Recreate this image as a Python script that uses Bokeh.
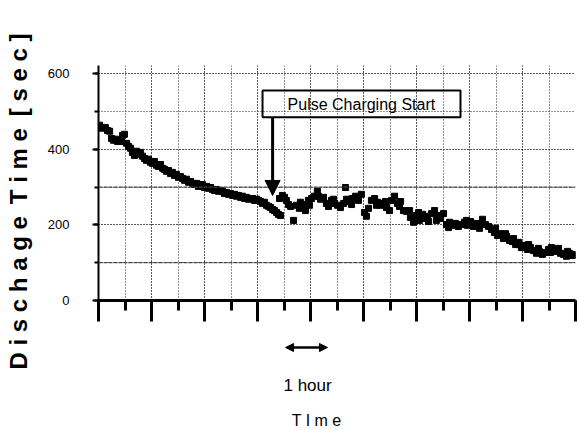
import math
from bokeh.plotting import figure
from bokeh.layouts import row, column
from bokeh.models import (Range1d, SingleIntervalTicker, Span, Arrow, NormalHead,
                          Label, ColumnDataSource)
from bokeh.core.properties import value
from bokeh.embed import file_html
from bokeh.resources import INLINE

# ---- data (x in grid units of time, y in seconds) ----
pre_x = [0.4, 1.1, 1.9, 2.6, 3.4, 4.2, 4.9, 5.7, 6.4, 7.2, 7.9, 8.7, 9.1, 9.8, 10.6, 11.3,
         12.1, 12.8, 13.6, 14.3, 15.1, 15.8, 16.6, 17.4, 18.1, 18.9, 19.6, 20.4, 21.1, 21.9,
         22.6, 23.4, 24.2, 24.9, 25.7, 26.4, 27.2, 27.9, 28.7, 29.4, 30.2, 30.9, 31.7, 32.5,
         33.2, 34.0, 34.7, 35.5, 36.2, 37.0, 37.7, 38.5, 39.2, 40.0, 40.8, 41.5, 42.3, 43.0,
         43.8, 44.5, 45.3, 46.0, 46.8, 47.5, 48.3, 49.1, 49.8, 50.6, 51.3, 52.1, 52.8, 53.6,
         54.3, 55.1, 55.8, 56.6, 57.4, 58.1, 58.9, 59.6, 60.4, 61.1, 61.9, 62.6, 63.4, 64.2,
         64.9, 65.7, 66.4, 67.2, 67.9, 68.7]
pre_y = [464, 456, 458, 458, 450, 448, 429, 424, 427, 421, 424, 421, 437, 440, 416, 408,
         403, 392, 384, 395, 387, 392, 382, 376, 371, 374, 366, 363, 368, 358,
         355, 360, 350, 347, 342, 344, 336, 339, 331, 334, 326, 328, 323, 318,
         321, 313, 315, 310, 307, 310, 302, 305, 307, 299, 302, 297, 299, 294,
         291, 294, 289, 291, 289, 283, 286, 281, 283, 278, 281, 276, 278, 273,
         276, 270, 273, 268, 270, 270, 265, 268, 265, 262, 257, 260, 252, 249,
         246, 241, 238, 233, 228, 225]

post_x = [68.3, 69.4, 70.2, 70.9, 71.7, 72.5, 73.6, 74.7, 75.8, 77.0, 78.1, 79.2, 80.4, 81.5,
          82.6, 83.8, 84.9, 86.0, 86.8, 87.9, 89.1, 90.2, 91.3, 92.5, 93.2, 93.6, 94.7, 95.8,
          97.0, 98.1, 99.2, 100.4, 101.1, 101.9, 103.0, 104.2, 105.3, 106.4, 107.5, 108.7,
          109.8, 110.6, 111.7, 112.8, 114.0, 115.1, 116.2, 117.4, 117.7, 118.9, 120.0, 121.1,
          122.3, 123.4, 124.5, 125.7, 126.8, 127.9, 129.1, 130.2, 131.3, 132.5, 133.6, 134.7,
          135.8, 137.0, 138.1, 139.2, 140.4, 141.5, 142.6, 143.8, 144.9, 146.0, 147.2, 148.3,
          149.4, 150.6, 151.7, 152.8, 154.0, 155.1, 156.2, 157.4, 158.5, 159.6, 160.8, 161.9,
          163.0, 164.2, 165.3, 166.4, 167.5, 168.7, 169.8, 170.9, 172.1, 173.2, 174.3, 175.5,
          176.6, 177.7, 178.9, 180.0,
          76.2, 79.6, 83.0, 88.7, 95.5, 97.7, 104.9, 108.3, 113.6, 120.8, 124.2, 127.5,
          132.1, 138.9, 143.4, 149.8, 153.6, 156.6, 158.8, 162.3, 166.0, 170.6, 173.6, 177.0]
post_y = [270, 278, 273, 265, 254, 249, 212, 252, 244, 254, 238, 265, 270, 276,
          289, 268, 273, 257, 249, 265, 257, 252, 246, 257, 299, 268, 262, 270,
          276, 265, 281, 233, 223, 244, 265, 270, 260, 252, 257, 246,
          238, 265, 276, 257, 262, 238, 236, 238, 220, 207, 225, 212,
          228, 217, 209, 230, 238, 225, 217, 230, 201, 207, 199, 204,
          196, 201, 207, 199, 209, 196, 204, 191, 215, 201, 196, 188,
          180, 172, 177, 164, 170, 159, 156, 148, 154, 140, 146, 135,
          140, 132, 125, 130, 122, 127, 135, 140, 130, 135, 125, 122,
          117, 125, 119, 122,
          260, 252, 276, 268, 254, 273, 252, 262, 249, 233, 223, 212,
          193, 212, 201, 191, 177, 164, 148, 148, 138, 127, 138, 130]

y_ticks = [0, 200, 400, 600]
y_title = "D i s c h a g e\u2002T i m e\u2002[ s e c ]"
x_title = "T I m e"
scale_text = "1 hour"
note_text = "Pulse Charging Start"

FONT = "Liberation Sans"

# ---------------- left strip: y-axis title ----------------
lab = figure(width=40, height=430, output_backend="svg", toolbar_location=None,
             x_range=Range1d(0, 40), y_range=Range1d(0, 430),
             min_border_left=0, min_border_right=0, min_border_top=0, min_border_bottom=0)
lab.axis.visible = False
lab.grid.visible = False
lab.outline_line_color = None
lab.text(x=[18], y=[229], text=[y_title], angle=math.pi / 2, text_align="center",
         text_baseline="middle", text_font=value(FONT), text_font_size="24px",
         text_font_style="bold", text_color="black")

# ---------------- main plot ----------------
p = figure(width=540, height=340, output_backend="svg", toolbar_location=None,
           x_range=Range1d(0, 180), y_range=Range1d(0, 622),
           min_border_left=58, min_border_right=5, min_border_top=65, min_border_bottom=40)
p.outline_line_color = None

xt = SingleIntervalTicker(interval=20, num_minor_ticks=2)
yt = SingleIntervalTicker(interval=200, num_minor_ticks=2)
p.xaxis.ticker = xt
p.yaxis.ticker = yt
p.xgrid.ticker = xt
p.ygrid.ticker = yt
for g in (p.xgrid[0], p.ygrid[0]):
    g.grid_line_color = "#222222"
    g.grid_line_dash = "1 2"
    g.grid_line_width = 1
    g.minor_grid_line_color = "#222222"
    g.minor_grid_line_dash = "1 2"
    g.minor_grid_line_width = 1
for yv in (100, 300):
    p.add_layout(Span(location=yv, dimension="width", line_color="#444444",
                      line_width=1.2, line_dash="4 1"))

src_pre = ColumnDataSource(dict(x=pre_x, y=pre_y))
src_post = ColumnDataSource(dict(x=post_x, y=post_y))
p.scatter("x", "y", source=src_pre, marker="square", size=6, color="black")
p.scatter("x", "y", source=src_post, marker="square", size=6, color="black")

xa = p.xaxis[0]
xa.axis_line_width = 3
xa.axis_line_color = "black"
xa.major_tick_out = 21
xa.major_tick_in = 0
xa.minor_tick_out = 10
xa.minor_tick_in = 0
xa.major_tick_line_width = 3
xa.minor_tick_line_width = 3
xa.major_tick_line_color = "black"
xa.minor_tick_line_color = "black"
xa.major_label_standoff = 0
xa.major_label_overrides = {v: "" for v in range(0, 181, 20)}

ya = p.yaxis[0]
ya.axis_line_width = 2
ya.axis_line_color = "black"
ya.major_tick_out = 6
ya.major_tick_in = 0
ya.minor_tick_out = 4
ya.minor_tick_in = 0
ya.major_tick_line_width = 2
ya.minor_tick_line_width = 2
ya.major_label_standoff = 23
ya.major_label_text_font = FONT
ya.major_label_text_font_size = "13px"
ya.major_label_text_color = "black"
ya.major_label_overrides = {v: str(v) for v in y_ticks}

# annotation: Pulse Charging Start
p.quad(left=[61.9], right=[136.6], bottom=[485], top=[556],
       fill_color=None, line_color="black", line_width=2)
p.add_layout(Label(x=99.2, y=519, text=note_text, text_align="center",
                   text_baseline="middle", text_font=FONT, text_font_size="16px",
                   text_color="black"))
p.add_layout(Arrow(end=NormalHead(size=15, fill_color="black", line_color="black"),
                   x_start=65.7, y_start=485, x_end=65.7, y_end=278,
                   line_width=3, line_color="black"))

# ---------------- bottom strip: scale bar and x title ----------------
b = figure(width=540, height=90, output_backend="svg", toolbar_location=None,
           x_range=p.x_range, y_range=Range1d(0, 90),
           min_border_left=58, min_border_right=5, min_border_top=0, min_border_bottom=0)
b.axis.visible = False
b.grid.visible = False
b.outline_line_color = None
b.add_layout(Arrow(start=NormalHead(size=8, fill_color="black", line_color="black"),
                   end=NormalHead(size=8, fill_color="black", line_color="black"),
                   x_start=70.6, y_start=83, x_end=86.4, y_end=83,
                   line_width=2.5, line_color="black"))
b.add_layout(Label(x=78.9, y=45, text=scale_text, text_align="center",
                   text_baseline="middle", text_font=FONT, text_font_size="17px",
                   text_color="black"))
b.add_layout(Label(x=82.3, y=10, text=x_title, text_align="center",
                   text_baseline="middle", text_font=FONT, text_font_size="16px",
                   text_color="black"))

layout = row(lab, column(p, b))
open("out.html", "w").write(file_html(layout, INLINE))
